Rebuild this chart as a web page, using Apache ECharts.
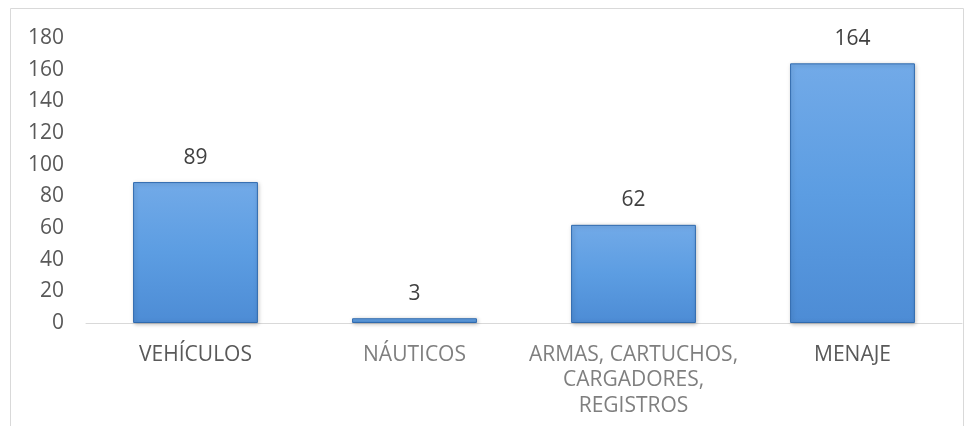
<!DOCTYPE html>
<html>
<head>
<meta charset="utf-8">
<script src="https://cdn.jsdelivr.net/npm/echarts@6/dist/echarts.min.js"></script>
<style>
	html, body { margin: 0; padding: 0; background: #fff; }
	#chart { width: 974px; height: 426px; }
</style>
</head>
<body>
<div id="chart"></div>
<script>
const categories = ['VEHÍCULOS', 'NÁUTICOS', 'ARMAS, CARTUCHOS,\nCARGADORES,\nREGISTROS', 'MENAJE']
const values = [89, 3, 62, 164]
const labelColors = ['#595959', '#7f7f7f', '#7f7f7f', '#595959']
const yTicks = [0, 20, 40, 60, 80, 100, 120, 140, 160, 180]

const node = document.getElementById('chart')
const myChart = echarts.init(node)

const font = '"Open Sans", sans-serif'

const option = {
	animation: false,
	graphic: [
		{
			type: 'rect',
			shape: { x: 10.5, y: 8.5, width: 953, height: 430 },
			style: { fill: 'none', stroke: '#d9d9d9', lineWidth: 1 },
			silent: true
		}
	],
	grid: {
		left: 86,
		right: 12,
		top: 38,
		bottom: 103
	},
	xAxis: {
		type: 'category',
		data: categories,
		axisTick: { show: false },
		axisLine: { lineStyle: { color: '#d9d9d9', width: 1 } },
		axisLabel: {
			interval: 0,
			margin: 19,
			fontFamily: font,
			fontSize: 21,
			lineHeight: 25.5,
			color: (value, index) => labelColors[index]
		}
	},
	yAxis: {
		type: 'value',
		min: yTicks[0],
		max: yTicks[yTicks.length - 1],
		interval: 20,
		splitLine: { show: false },
		axisLine: { show: false },
		axisTick: { show: false },
		axisLabel: {
			margin: 22,
			fontFamily: font,
			fontSize: 21,
			color: '#595959'
		}
	},
	series: [
		{
			type: 'bar',
			data: values,
			barWidth: '57%',
			itemStyle: {
				color: new echarts.graphic.LinearGradient(0, 0, 0, 1, [
					{ offset: 0, color: '#72aae8' },
					{ offset: 0.5, color: '#5c9de2' },
					{ offset: 1, color: '#4d8cd5' }
				]),
				borderColor: '#2f6aae',
				borderWidth: 1,
				shadowColor: 'rgba(0,0,0,0.25)',
				shadowBlur: 4,
				shadowOffsetX: 1,
				shadowOffsetY: 1
			},
			label: {
				show: true,
				position: 'top',
				distance: 14,
				fontFamily: font,
				fontSize: 21,
				color: '#404040'
			}
		}
	]
}

myChart.setOption(option)

window.addEventListener('resize', () => {
	myChart.resize()
})
</script>
</body>
</html>
